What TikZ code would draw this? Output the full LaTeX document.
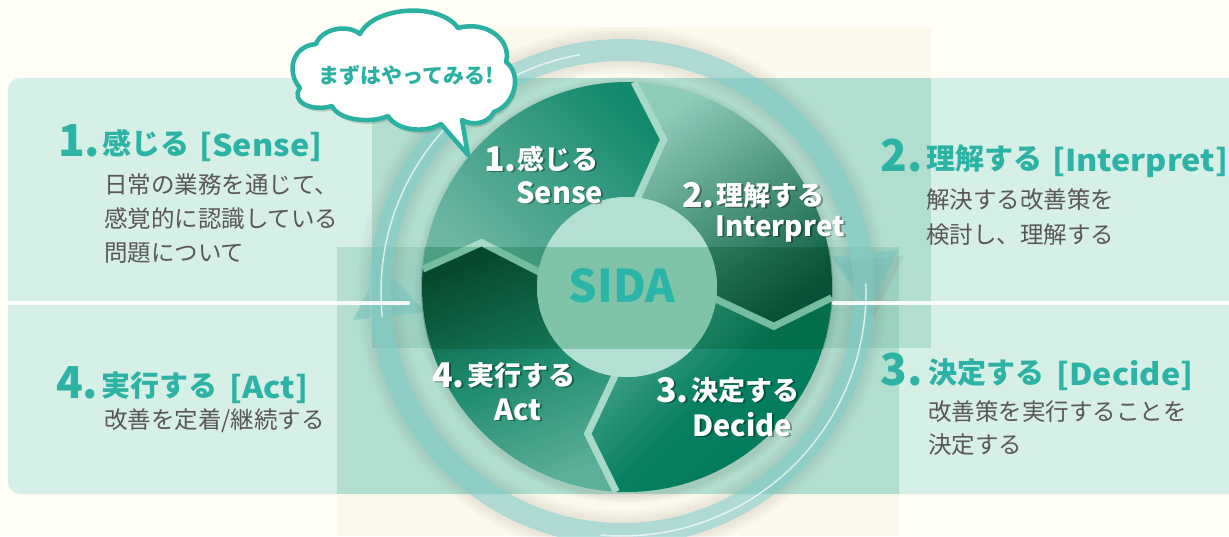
\documentclass[tikz,border=0pt]{standalone}
\usepackage{fontspec}
\usepackage{graphicx}
\newfontfamily\jp{Noto Sans CJK JP}
\definecolor{cream}{HTML}{FEFDF6}
\definecolor{creamrect}{HTML}{FBF8EC}
\definecolor{panel}{HTML}{D6EFE7}
\definecolor{rectc}{HTML}{B2DED0}
\definecolor{bandc}{HTML}{9CD0C1}
\definecolor{ringc}{HTML}{72C2BF}
\definecolor{gapc}{HTML}{A6D9C8}
\definecolor{sidac}{HTML}{B3E0D2}
\definecolor{bandmul}{HTML}{B5DFCE}
\definecolor{headc}{HTML}{2DB3A5}
\definecolor{bodyc}{HTML}{595757}
\definecolor{sidatext}{HTML}{2BB5A8}
\definecolor{shadowc}{HTML}{4A4030}
\definecolor{bubc}{HTML}{2BB0A2}
\definecolor{Seg1a}{HTML}{138A6D}
\definecolor{Seg1b}{HTML}{6DB6A3}
\definecolor{Seg2a}{HTML}{8ECBB9}
\definecolor{Seg2b}{HTML}{0B5E43}
\definecolor{Seg3a}{HTML}{4AA68E}
\definecolor{Seg3m}{HTML}{067E60}
\definecolor{Seg3b}{HTML}{017A5B}
\definecolor{Seg4a}{HTML}{0A5238}
\definecolor{Seg4m}{HTML}{1D8A6E}
\definecolor{Seg4b}{HTML}{5CAF98}
\tikzset{
  head/.style={text=headc, inner sep=0, anchor=base west, font=\jp\bfseries},
  bodytxt/.style={text=bodyc, inner sep=0, anchor=west, font=\jp\fontsize{23.5}{23.5}\selectfont},
  lab/.style={text=white, inner sep=0, anchor=base west, font=\jp\bfseries},
  labsh/.style={text=black, text opacity=0.35, inner sep=0, anchor=base west, font=\jp\bfseries, xshift=1.8pt, yshift=-1.8pt},
}
\newcommand\cloudpath{(300,88) .. controls (286,72) and (292,46) .. (316,44) .. controls (322,28) and (348,24) .. (360,34) .. controls (374,6) and (440,2) .. (458,28) .. controls (486,20) and (512,40) .. (506,62) .. controls (522,74) and (516,104) .. (494,112) .. controls (488,124) and (472,126) .. (462,120) -- (468,155) -- (441,124) .. controls (424,134) and (396,130) .. (388,116) .. controls (370,124) and (338,120) .. (332,106) .. controls (312,112) and (290,102) .. (300,88) -- cycle}
\begin{document}
\begin{tikzpicture}[x=1pt,y=-1pt]
\useasboundingbox (0,0) rectangle (1229,536);
% background and panels
\fill[cream] (0,0) rectangle (1229,536);
\fill[creamrect] (372,27) rectangle (931,78);
\fill[creamrect] (337,494) rectangle (899,536);
\fill[panel, rounded corners=12] (8,78) rectangle (1260,494);
\fill[rectc] (372,78) rectangle (931,348);
\fill[rectc] (337,247) rectangle (899,494);
\fill[bandc] (372,247) rectangle (899,348);

\begin{scope}[shift={(627,287)}, y=1pt]
  % ring shadow
  \foreach \k in {3,6,9,12} {
    \pgfmathsetmacro\ro{253+\k}
    \pgfmathsetmacro\ri{231-\k}
    \fill[shadowc, opacity=0.025, even odd rule] (-5,-5) circle[radius=\ro] (-5,-5) circle[radius=253] (-5,-5) circle[radius=231] (-5,-5) circle[radius=\ri];
  }
  % arrowhead shadows
  \fill[shadowc, opacity=0.08] (210,25) -- (277,31) -- (246,-32) -- cycle;
  % ring with arrowheads
  \begin{scope}[transparency group, opacity=0.55]
    \fill[ringc, even odd rule] (-5,-5) circle[radius=253] (-5,-5) circle[radius=231];
    \fill[ringc] (-274,-33) -- (-245,22) -- (-202,-25) -- cycle;
    \fill[ringc] (205,30) -- (271,37) -- (241,-26) -- cycle;
  \end{scope}
  \draw[white, opacity=0.7, line width=1.5] (-5,-5) ++(100:241) arc[start angle=100, end angle=186, radius=241];
  \draw[white, opacity=0.7, line width=1.5] (-5,-5) ++(2:244) arc[start angle=2, end angle=-95, radius=244];
  % disk shadow
  \foreach \k in {2,4,6,8} {
    \pgfmathsetmacro\rr{205+\k}
    \fill[shadowc, opacity=0.03] (1,-3) circle[radius=\rr];
  }
  % disk base
  \fill[gapc] (0,0) circle[radius=205];
  % segments
  \shade[top color=Seg1a, bottom color=Seg1b, shading angle=-45]
    (175:205) arc[start angle=175, end angle=88, radius=205] -- (76:152) -- (84:90)
    arc[start angle=84, end angle=171, radius=90] -- (163:152) -- cycle;
  \shade[top color=Seg2a, bottom color=Seg2b, shading angle=35]
    (88:205) arc[start angle=88, end angle=-3, radius=205] -- (-15:152) -- (-7:90)
    arc[start angle=-7, end angle=84, radius=90] -- (76:152) -- cycle;
  \shade[top color=Seg3a, bottom color=Seg3b, middle color=Seg3m, shading angle=45]
    (-3:205) arc[start angle=-3, end angle=-93, radius=205] -- (-105:152) -- (-97:90)
    arc[start angle=-97, end angle=-7, radius=90] -- (-15:152) -- cycle;
  \shade[top color=Seg4a, bottom color=Seg4b, middle color=Seg4m, shading angle=20]
    (-93:205) arc[start angle=-93, end angle=-185, radius=205] -- (-197:152) -- (-189:90)
    arc[start angle=-189, end angle=-97, radius=90] -- (-105:152) -- cycle;
  % gaps
  \foreach \t in {175,88,-3,-93} {
    \draw[gapc, line width=7, line join=miter] (\t-4:86) -- (\t-12:152) -- (\t:205);
  }
  % SIDA disc
  \fill[sidac] (0,0) circle[radius=90];
  % band darkening
  \begin{scope}
    \clip (-255,40) rectangle (272,-61);
    \fill[bandmul, blend mode=multiply] (0,0) circle[radius=206];
  \end{scope}
\end{scope}

% separator lines
\draw[white, opacity=0.92, line width=4.5, line cap=round] (-5,303) -- (408,303);
\draw[white, opacity=0.92, line width=4.5, line cap=round] (834,303) -- (1240,303);

% SIDA
\node[text=sidatext, font=\jp\bfseries\fontsize{45}{45}\selectfont, inner sep=0] (sida) at (622,286) {SIDA};

% circle labels
\node[labsh] (s1n) at (484,171) {\fontsize{34}{34}\selectfont 1.};
\node[lab] (l1n) at (484,171) {\fontsize{34}{34}\selectfont 1.};
\node[labsh] (s1j) at (517,169) {\fontsize{27}{27}\selectfont 感じる};
\node[lab] (l1j) at (517,169) {\fontsize{27}{27}\selectfont 感じる};
\node[labsh] (s1e) at (516,203) {\fontsize{29}{29}\selectfont Sense};
\node[lab] (l1e) at (516,203) {\fontsize{29}{29}\selectfont Sense};

\node[labsh] (s2n) at (682,207) {\fontsize{34}{34}\selectfont 2.};
\node[lab] (l2n) at (682,207) {\fontsize{34}{34}\selectfont 2.};
\node[labsh] (s2j) at (716,205) {\fontsize{27}{27}\selectfont 理解する};
\node[lab] (l2j) at (716,205) {\fontsize{27}{27}\selectfont 理解する};
\node[labsh] (s2e) at (715,236) {\fontsize{28}{28}\selectfont Interpret};
\node[lab] (l2e) at (715,236) {\fontsize{28}{28}\selectfont Interpret};

\node[labsh] (s4n) at (432,387) {\fontsize{34}{34}\selectfont 4.};
\node[lab] (l4n) at (432,387) {\fontsize{34}{34}\selectfont 4.};
\node[labsh] (s4j) at (467,385) {\fontsize{27}{27}\selectfont 実行する};
\node[lab] (l4j) at (467,385) {\fontsize{27}{27}\selectfont 実行する};
\node[labsh] (s4e) at (494,420) {\fontsize{29}{29}\selectfont Act};
\node[lab] (l4e) at (494,420) {\fontsize{29}{29}\selectfont Act};

\node[labsh] (s3n) at (656,402) {\fontsize{34}{34}\selectfont 3.};
\node[lab] (l3n) at (656,402) {\fontsize{34}{34}\selectfont 3.};
\node[labsh] (s3j) at (691,400) {\fontsize{27}{27}\selectfont 決定する};
\node[lab] (l3j) at (691,400) {\fontsize{27}{27}\selectfont 決定する};
\node[labsh] (s3e) at (692,436) {\fontsize{29}{29}\selectfont Decide};
\node[lab] (l3e) at (692,436) {\fontsize{29}{29}\selectfont Decide};

% side headings
\node[head] (h1n) at (58,156) {\fontsize{44}{44}\selectfont 1.};
\node[head] (h1j) at (102,154) {\fontsize{29}{29}\selectfont 感じる};
\node[head] (h1e) at (199,156) {\fontsize{30}{30}\selectfont\scalebox{1.08}[1]{[Sense]}};
\node[head] (h4n) at (56,398) {\fontsize{44}{44}\selectfont 4.};
\node[head] (h4j) at (101,396) {\fontsize{29}{29}\selectfont 実行する};
\node[head] (h4e) at (229,398) {\fontsize{30}{30}\selectfont\scalebox{1.08}[1]{[Act]}};
\node[head] (h2n) at (880,171) {\fontsize{44}{44}\selectfont 2.};
\node[head] (h2j) at (926,169) {\fontsize{29}{29}\selectfont 理解する};
\node[head] (h2e) at (1052,171) {\fontsize{30}{30}\selectfont\scalebox{1.08}[1]{[Interpret]}};
\node[head] (h3n) at (880,385) {\fontsize{44}{44}\selectfont 3.};
\node[head] (h3j) at (928,383) {\fontsize{29}{29}\selectfont 決定する};
\node[head] (h3e) at (1056,385) {\fontsize{30}{30}\selectfont\scalebox{1.08}[1]{[Decide]}};

% body texts
\node[bodytxt] (b1a) at (104,185) {日常の業務を通じて、};
\node[bodytxt] (b1b) at (104,219) {感覚的に認識している};
\node[bodytxt] (b1c) at (104,253) {問題について};
\node[bodytxt] (b4a) at (104,421) {改善を定着/継続する};
\node[bodytxt] (b2a) at (926,200) {解決する改善策を};
\node[bodytxt] (b2b) at (926,235) {検討し、理解する};
\node[bodytxt] (b3a) at (928,412) {改善策を実行することを};
\node[bodytxt] (b3b) at (928,445) {決定する};

% speech bubble
\begin{scope}[shift={(2,4)}]
  \fill[shadowc, opacity=0.18] \cloudpath;
\end{scope}
\draw[bubc, line width=4.5, line join=round, fill=white] \cloudpath;
\node[text=bubc, font=\jp\bfseries\fontsize{21}{21}\selectfont, inner sep=0] (bubtext) at (406,76) {まずはやってみる!};
\end{tikzpicture}
\end{document}
